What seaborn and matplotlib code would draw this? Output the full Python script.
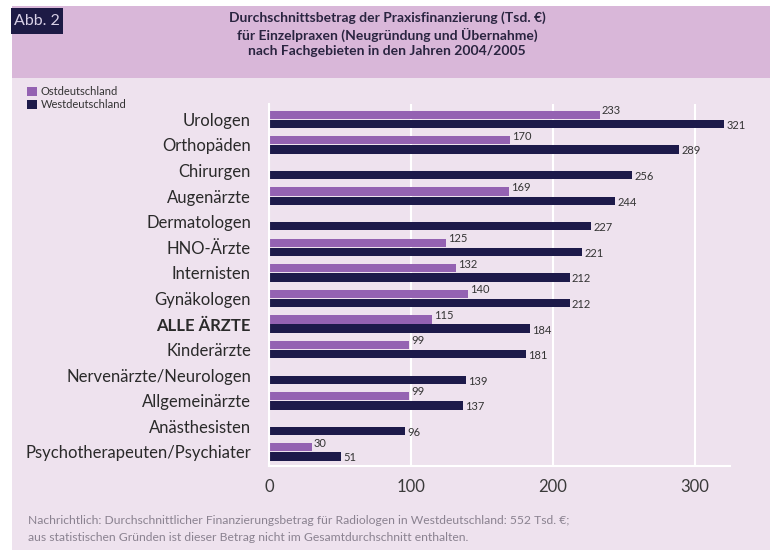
import numpy as np
import pandas as pd
import matplotlib
matplotlib.use("Agg")
import matplotlib.pyplot as plt
from matplotlib.patches import Rectangle
import seaborn as sns

categories = ["Urologen", "Orthopäden", "Chirurgen", "Augenärzte", "Dermatologen",
              "HNO-Ärzte", "Internisten", "Gynäkologen", "ALLE ÄRZTE", "Kinderärzte",
              "Nervenärzte/Neurologen", "Allgemeinärzte", "Anästhesisten",
              "Psychotherapeuten/Psychiater"]
ost = [233, 170, np.nan, 169, np.nan, 125, 132, 140, 115, 99, np.nan, 99, np.nan, 30]
west = [321, 289, 256, 244, 227, 221, 212, 212, 184, 181, 139, 137, 96, 51]
series = ["Ostdeutschland", "Westdeutschland"]
ticks = [0, 100, 200, 300]

df = pd.DataFrame({
    "Fachgebiet": categories * 2,
    "Region": [series[0]] * len(categories) + [series[1]] * len(categories),
    "Wert": ost + west,
})

sns.set_theme(style="white")
plt.rcParams["font.family"] = ["Lato", "DejaVu Sans"]

bg = "#eee2ee"
band = "#d9b7d9"
purple = "#9462b2"
navy = "#1d1a4a"

fig = plt.figure(figsize=(7.7, 5.5), dpi=100)
fig.patch.set_facecolor("white")
# panel background
fig.add_artist(Rectangle((12/770, 0), 1, 1 - 6/550, transform=fig.transFigure,
                         facecolor=bg, edgecolor="none", zorder=-10))
fig.add_artist(Rectangle((12/770, 1 - 78/550), 1, 72/550, transform=fig.transFigure,
                         facecolor=band, edgecolor="none", zorder=-9))
fig.add_artist(Rectangle((11/770, 1 - 34/550), 52/770, 26/550, transform=fig.transFigure,
                         facecolor="#1d1a45", edgecolor="none", zorder=-8))
fig.text(37/770, 1 - 21/550, "Abb. 2", color="#d8d0e6", fontsize=11.5,
         ha="center", va="center")
fig.text(387/770, 1 - 34/550,
         "Durchschnittsbetrag der Praxisfinanzierung (Tsd. €)\n"
         "für Einzelpraxen (Neugründung und Übernahme)\n"
         "nach Fachgebieten in den Jahren 2004/2005",
         ha="center", va="center", fontsize=10, color="#2a2440",
         fontweight="bold", linespacing=1.3)

ax = fig.add_axes([269/770, 1 - 466/550, 461/770, (466 - 104)/550])
ax.set_facecolor(bg)
sns.barplot(data=df, y="Fachgebiet", x="Wert", hue="Region", orient="h",
            palette=[purple, navy], errorbar=None, width=0.72, gap=0.1,
            saturation=1, linewidth=0, ax=ax, legend=True)

ax.set_xlim(0, 325)
ax.set_ylim(len(categories) - 0.45, -0.6)
ax.set_xticks(ticks)
ax.set_xticklabels([str(t) for t in ticks])
ax.tick_params(axis="x", length=0, pad=9, labelsize=12, labelcolor="#3a3a3a")
ax.tick_params(axis="y", length=0, pad=13, labelsize=12, labelcolor="#2a2a2a")
for lbl in ax.get_yticklabels():
    if lbl.get_text() == "ALLE ÄRZTE":
        lbl.set_fontweight("bold")
ax.set_xlabel("")
ax.set_ylabel("")
ax.grid(axis="x", color="white", linewidth=1.5)
ax.set_axisbelow(True)
for s in ["top", "right"]:
    ax.spines[s].set_visible(False)
ax.spines["left"].set_color("white")
ax.spines["left"].set_linewidth(1.5)
ax.spines["bottom"].set_color("white")
ax.spines["bottom"].set_linewidth(1.5)

for ci, cont in enumerate(ax.containers):
    dy = 3 if ci == 0 else -1
    for p in cont.patches:
        w = p.get_width()
        if not np.isfinite(w) or w == 0:
            continue
        yc = p.get_y() + p.get_height() / 2
        ax.annotate(f"{int(round(w))}", (w, yc), xytext=(1.5, dy),
                    textcoords="offset points", ha="left", va="center",
                    fontsize=8, color="#333333")

h, l = ax.get_legend_handles_labels()
ax.get_legend().remove()
fig.legend(h, l, loc="upper left", bbox_to_anchor=(27/770, 1 - 86/550),
           frameon=False, fontsize=8, handlelength=0.9, handleheight=0.9,
           handletextpad=0.3, labelspacing=0.2, borderaxespad=0, borderpad=0,
           labelcolor="#333333")

fig.text(28/770, 1 - 529/550,
         "Nachrichtlich: Durchschnittlicher Finanzierungsbetrag für Radiologen in Westdeutschland: 552 Tsd. €;\n"
         "aus statistischen Gründen ist dieser Betrag nicht im Gesamtdurchschnitt enthalten.",
         ha="left", va="center", fontsize=8.7, color="#8a8290", linespacing=1.6)

fig.savefig("out.png", dpi=100, facecolor=fig.get_facecolor())
